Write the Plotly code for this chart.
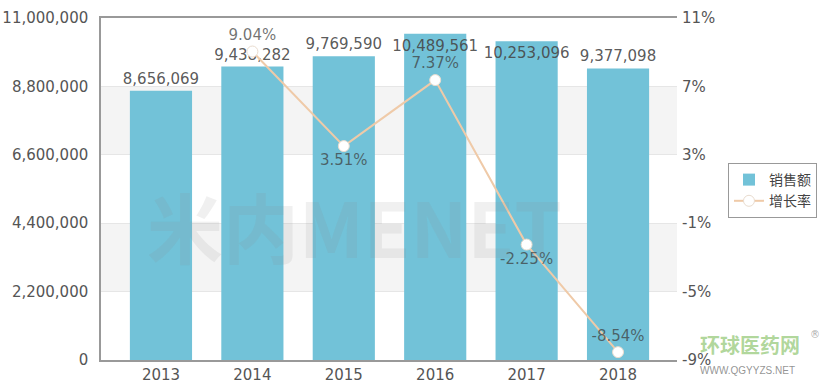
import plotly.graph_objects as go

years = ["2013", "2014", "2015", "2016", "2017", "2018"]
sales = [8656069, 9438282, 9769590, 10489561, 10253096, 9377098]
growth = [None, 9.04, 3.51, 7.37, -2.25, -8.54]

left_ticks = [0, 2200000, 4400000, 6600000, 8800000, 11000000]
right_ticks = [-9, -5, -1, 3, 7, 11]

# label placement styles
bar_label_pos = ["outside", "outside", "outside", "inside", "inside", "outside"]
growth_pos = ["top center", "top center", "bottom center", "top center", "bottom center", "top center"]

bar_color = "#72c2d8"
line_color = "#efcaa8"
font_family = "DejaVu Sans, Verdana, sans-serif"
tick_color = "#555555"
label_font = dict(family=font_family, size=15, color="rgba(70,70,70,0.9)")

fig = go.Figure()

fig.add_trace(go.Bar(
    x=years, y=sales, name="销售额",
    marker=dict(color=bar_color, line=dict(width=0)),
    width=0.68,
    text=[f"{v:,}" for v in sales], textposition=bar_label_pos,
    insidetextanchor="end", textangle=0,
    constraintext="none",
    textfont=label_font, insidetextfont=label_font, outsidetextfont=label_font,
    cliponaxis=False,
))

fig.add_trace(go.Scatter(
    x=years, y=growth, name="增长率", yaxis="y2", mode="lines+markers+text",
    line=dict(color=line_color, width=2),
    marker=dict(color="white", size=11, line=dict(color="#e9dccf", width=1)),
    text=["" if g is None else f"{g:.2f}%" for g in growth],
    textposition=growth_pos,
    textfont=dict(family=font_family, size=15, color="rgba(60,60,60,0.72)"),
    cliponaxis=False,
))

# alternating bands
shapes = []
for i in range(len(left_ticks) - 1):
    if i % 2 == 1:
        shapes.append(dict(type="rect", xref="paper", yref="y", x0=0, x1=1,
                           y0=left_ticks[i], y1=left_ticks[i + 1],
                           fillcolor="#f4f4f4", line=dict(width=0), layer="below"))

annotations = [
    dict(text="<b>米内MENET</b>", xref="paper", yref="paper", x=0.44, y=0.395,
         xanchor="center", yanchor="middle",
         showarrow=False, font=dict(family="Noto Sans CJK SC, DejaVu Sans", size=76,
                                    color="rgba(140,140,140,0.13)")),
    dict(text="<b>环球医药网</b>", xref="paper", yref="paper", x=1.127, y=0.045,
         xanchor="center", yanchor="middle",
         showarrow=False, font=dict(family="Noto Sans CJK SC", size=20,
                                    color="rgba(110,180,70,0.55)")),
    dict(text="®", xref="paper", yref="paper", x=1.24, y=0.075,
         xanchor="center", yanchor="middle",
         showarrow=False, font=dict(family=font_family, size=10,
                                    color="rgba(150,150,150,0.8)")),
    dict(text="WWW.QGYYZS.NET", xref="paper", yref="paper", x=1.123, y=-0.03,
         xanchor="center", yanchor="middle",
         showarrow=False, font=dict(family="Liberation Sans, Arial", size=10,
                                    color="rgba(120,120,120,0.8)")),
]

fig.update_layout(
    width=828, height=390,
    margin=dict(l=101, r=151, t=18, b=30, autoexpand=False),
    paper_bgcolor="white", plot_bgcolor="white",
    font=dict(family=font_family, size=15, color=tick_color),
    showlegend=True,
    legend=dict(x=1.0885, y=0.576, xanchor="left", yanchor="top",
                bordercolor="#999999", borderwidth=1, bgcolor="white",
                font=dict(family="Noto Sans CJK SC", size=14, color="#444"),
                itemwidth=30, tracegroupgap=2),
    xaxis=dict(type="category", range=[-0.656, 5.645], showline=True, linecolor="#999999",
               linewidth=1.5, mirror=True, ticks="", showgrid=False, automargin=False,
               tickfont=dict(family=font_family, size=15, color=tick_color)),
    yaxis=dict(range=[0, 11000000], tickvals=left_ticks,
               ticktext=[f"{v:,}" for v in left_ticks], showline=True,
               linecolor="#999999", linewidth=1.5, gridcolor="#e6e6e6", zeroline=False,
               tickfont=dict(family=font_family, size=15, color=tick_color), ticks="",
               ticklabelstandoff=8, automargin=False),
    yaxis2=dict(range=[-9, 11], tickvals=right_ticks,
                ticktext=[f"{v}%" for v in right_ticks], overlaying="y", side="right",
                showgrid=False, zeroline=False, showline=False, automargin=False,
                tickfont=dict(family=font_family, size=15, color=tick_color), ticks="",
                ticklabelstandoff=4),
    shapes=shapes,
    annotations=annotations,
)

fig.write_html("out.html")
